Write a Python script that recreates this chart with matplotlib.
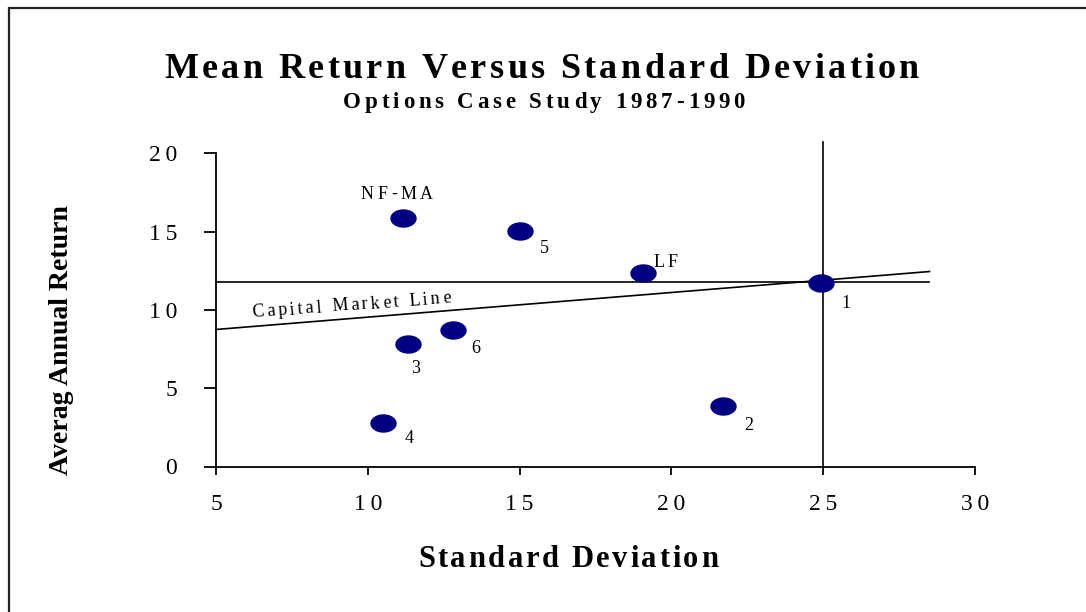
import numpy as np
import matplotlib
matplotlib.use("Agg")
import matplotlib.pyplot as plt
from matplotlib.path import Path
from matplotlib.patches import Rectangle
from matplotlib.font_manager import FontProperties, findfont, get_font

# ---------------- data ----------------
labels = ["NF-MA", "5", "LF", "1", "6", "3", "2", "4"]
std_dev = [11.17, 15.01, 19.05, 24.92, 12.82, 11.31, 21.69, 10.51]
mean_ret = [15.85, 15.04, 12.34, 11.74, 8.73, 7.80, 3.88, 2.78]

cml_x = [5.0, 28.5]
cml_y = [8.75, 12.45]
hline_x = [5.0, 28.5]
hline_y = [11.75, 11.75]
vline_x = [25.0, 25.0]
vline_y = [0.0, 20.7]

x_ticks = [5, 10, 15, 20, 25, 30]
y_ticks = [0, 5, 10, 15, 20]

title = "Mean Return Versus Standard Deviation"
subtitle = "Options Case Study 1987-1990"
xlabel = "Standard Deviation"
ylabel = "Averag Annual Return"
cml_label = "Capital Market Line"

W, H = 1086, 612
DPI = 100
FAMILY = "Liberation Serif"
NAVY = "#000080"

fig = plt.figure(figsize=(W / DPI, H / DPI), dpi=DPI)
fig.patch.set_facecolor("white")

x0p, x1p = 216, 975
y0p, y1p = 466.5, 153.3
ax = fig.add_axes([x0p / W, 1 - y0p / H, (x1p - x0p) / W, (y0p - y1p) / H])
ax.set_xlim(5, 30)
ax.set_ylim(0, 20)
for s in ["top", "right"]:
    ax.spines[s].set_visible(False)
for s in ["left", "bottom"]:
    ax.spines[s].set_linewidth(1.3)
ax.set_xticks(x_ticks)
ax.set_yticks(y_ticks)
ax.set_xticklabels(["\u2009".join(str(t)) for t in x_ticks])
ax.set_yticklabels(["\u2009".join(str(t)) for t in y_ticks])
ax.tick_params(axis="x", direction="out", length=6, width=1.3, pad=14,
               labelsize=17, colors="black")
ax.tick_params(axis="y", direction="out", length=9, width=1.3, pad=19,
               labelsize=17, colors="black")
for lab in ax.get_xticklabels() + ax.get_yticklabels():
    lab.set_fontfamily([FAMILY, "DejaVu Serif"])

# lines
ax.plot(hline_x, hline_y, color="black", lw=1.2, clip_on=False, zorder=2)
ax.plot(cml_x, cml_y, color="black", lw=1.2, clip_on=False, zorder=2)
ax.plot(vline_x, vline_y, color="black", lw=1.2, clip_on=False, zorder=2)

# elliptical markers
t = np.linspace(0, 2 * np.pi, 60)
ell = Path(np.column_stack([np.cos(t), 0.68 * np.sin(t)]), closed=True)
ax.plot(std_dev, mean_ret, linestyle="none", marker=ell, markersize=18,
        markerfacecolor=NAVY, markeredgecolor=NAVY, zorder=3, clip_on=False)


# ------------- letter-spaced text helper -------------
def advances(s, size, weight):
    prop = FontProperties(family=FAMILY, weight=weight, size=size)
    font = get_font(findfont(prop))
    font.set_size(size, DPI)
    return [font.load_char(ord(c)).linearHoriAdvance / 65536.0 for c in s]


def spaced(s, cx, by, size, weight="normal", width=None, spacing=0.0,
           angle=0.0, color="black"):
    adv = advances(s, size, weight)
    natural = sum(adv)
    if width is not None and len(s) > 1:
        spacing = (width - natural) / (len(s) - 1)
    total = natural + spacing * (len(s) - 1)
    th = np.deg2rad(angle)
    dx, dy = np.cos(th), -np.sin(th)
    sx = cx - dx * total / 2
    sy = by - dy * total / 2
    off = 0.0
    for c, a in zip(s, adv):
        px = sx + dx * off
        py = sy + dy * off
        if c != " ":
            fig.text(px / W, 1 - py / H, c, fontsize=size, fontweight=weight,
                     family=FAMILY, ha="left", va="baseline", rotation=angle,
                     rotation_mode="anchor", color=color)
        off += a + spacing


# titles and axis labels
spaced(title, 542, 78, 26, "bold", width=755)
spaced(subtitle, 544, 108, 16.5, "bold", width=402)
spaced(xlabel, 568, 567, 22, "bold", width=300)
fig.text(62 / W, 1 - 340 / H, ylabel, rotation=90, fontsize=20,
         fontweight="bold", family=FAMILY, ha="center", va="center")

# point labels (pixel positions of label text measured from reference)
lab_pos = {"NF-MA": (397, 199, 72), "5": (544, 253, None), "LF": (666, 267, 24),
           "1": (846, 308, None), "6": (476, 353, None), "3": (416, 373, None),
           "2": (749, 430, None), "4": (409, 443, None)}
for name in labels:
    cx, by, wd = lab_pos[name]
    spaced(name, cx, by, 13, "normal", width=wd)

spaced(cml_label, 351.5, 310, 13, "normal", width=199, angle=4.2)

# outer frame (cropped at right/bottom like the reference)
fig.patches.append(Rectangle((9 / W, -0.2), 1.5, 1.2 - 8 / H, fill=False,
                             lw=1.6, edgecolor="#222222",
                             transform=fig.transFigure))

fig.savefig("out.png", dpi=DPI, facecolor="white")
